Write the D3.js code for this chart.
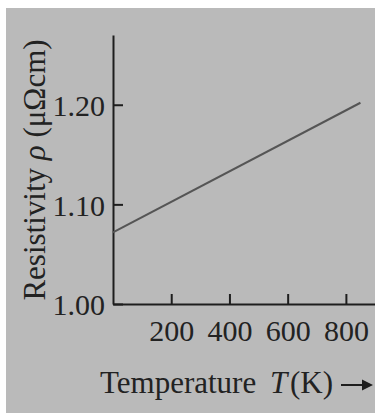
<!DOCTYPE html>
<html>
<head>
<meta charset="utf-8">
<script src="https://cdn.jsdelivr.net/npm/d3@7"></script>
<style>
  body { margin: 0; background: #fff; }
  svg { display: block; }
  .axis path, .axis line { stroke: #1e1e1e; stroke-width: 2; }
  .axis text { font-family: "Liberation Serif", serif; font-size: 30px; fill: #222; }
  .title { font-family: "Liberation Serif", serif; font-size: 31px; fill: #222; }
</style>
</head>
<body>
<svg id="chart" width="375" height="415"></svg>
<script>
// temperature (K) and resistivity (micro-ohm cm)
var temps = [0, 850];
var rho = [1.072, 1.202];
var xTicks = [200, 400, 600, 800];
var yTicks = [1.00, 1.10, 1.20];

var svg = d3.select("#chart"),
    width = +svg.attr("width"),
    height = +svg.attr("height");

// grey page background
svg.append("rect")
    .attr("x", 6).attr("y", 8)
    .attr("width", width - 6).attr("height", height - 10)
    .attr("fill", "#bababa");

var x = d3.scaleLinear().domain([0, 900]).range([113, 375]);
var y = d3.scaleLinear().domain([1.00, 1.27]).range([304, 35]);

var xAxis = d3.axisBottom(x)
    .tickValues(xTicks)
    .tickSizeInner(-10)
    .tickSizeOuter(0)
    .tickPadding(16);

var yAxis = d3.axisLeft(y)
    .tickValues(yTicks)
    .tickFormat(d3.format(".2f"))
    .tickSizeInner(-10)
    .tickSizeOuter(0)
    .tickPadding(8);

var gx = svg.append("g")
    .attr("class", "axis")
    .attr("transform", "translate(0," + y(1.00) + ")")
    .call(xAxis);

var gy = svg.append("g")
    .attr("class", "axis")
    .attr("transform", "translate(" + x(0) + ",0)")
    .call(yAxis);

gy.selectAll(".tick text").attr("dy", "0.36em");

var line = d3.line()
    .x(function(d, i) { return x(temps[i]); })
    .y(function(d) { return y(d); });

svg.append("path")
    .datum(rho)
    .attr("d", line)
    .attr("fill", "none")
    .attr("stroke", "#555")
    .attr("stroke-width", 2);

// y title
var yt = svg.append("text")
    .attr("class", "title")
    .attr("font-size", 32)
    .attr("text-anchor", "middle")
    .attr("transform", "translate(45,170) rotate(-90)");
yt.append("tspan").text("Resistivity ");
yt.append("tspan").attr("font-style", "italic").text("ρ");
yt.append("tspan").text(" (μΩcm)");

// x title
svg.append("text").attr("class", "title")
    .attr("x", 100).attr("y", 393)
    .text("Temperature");
svg.append("text").attr("class", "title")
    .attr("x", 270).attr("y", 393)
    .attr("font-style", "italic")
    .text("T");
svg.append("text").attr("class", "title")
    .attr("x", 290).attr("y", 393)
    .text("(K)");

// arrow
svg.append("line")
    .attr("x1", 341).attr("x2", 364)
    .attr("y1", 385).attr("y2", 385)
    .attr("stroke", "#1e1e1e").attr("stroke-width", 2);
svg.append("path")
    .attr("d", d3.line()([[362, 379.5], [373, 385], [362, 390.5]]) + "Z")
    .attr("fill", "#1e1e1e");
</script>
</body>
</html>
